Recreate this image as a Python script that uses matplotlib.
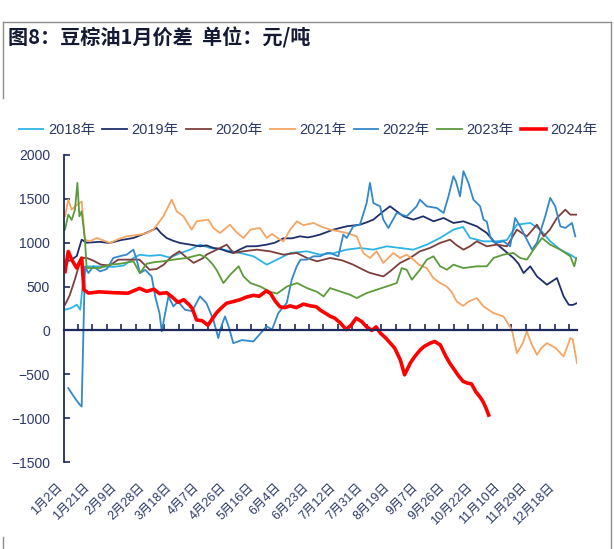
import numpy as np
import matplotlib
matplotlib.use("Agg")
import matplotlib.pyplot as plt
from matplotlib.lines import Line2D
from matplotlib.ticker import FixedLocator

plt.rcParams['font.family'] = ['Liberation Sans', 'Noto Sans CJK SC']

# x = 日序 (0..360)，数值单位 元/吨
x_2018 = [0.7, 5, 9, 11.4, 13.6, 16, 25, 35, 42, 48.7, 53.3, 60, 67.4, 74.4, 81.4, 88.4, 95.4, 102.5, 111.9,
          123.6, 133, 142.3, 151.7, 158.7, 170.5, 179.6, 189, 198.4, 207.7, 217.1, 226.5, 235.8, 245.2, 254.6,
          263.9, 273.3, 280, 285, 294.4, 303.7, 310.8, 317.8, 327.2, 334.2, 341.2, 348.3, 355.3, 359]
v_2018 = [236, 255, 293, 236, 600, 730, 730, 725, 740, 825, 863, 850, 860, 830, 880, 920, 978, 940, 920,
          883, 845, 750, 825, 883, 902, 864, 880, 921, 940, 921, 959, 940, 921, 978,
          1054, 1149, 1180, 1054, 1016, 1016, 1030, 1206, 1225, 1149, 1016, 921, 864, 826]

x_2019 = [0.7, 5, 9, 12.4, 16, 25, 32, 40, 48.7, 56, 62.7, 65, 68, 72, 77, 81.4, 88, 95.4, 100, 104.8, 110,
          114.2, 118.8, 123, 128.2, 135, 142.2, 148, 153.9, 160, 165.6, 171, 175, 179.6, 189, 198.4, 207.7,
          212, 217.1, 224.1, 228.8, 233.5, 238.2, 245.2, 252, 259.4, 266.4, 273.3, 280.3, 289.7, 296.7, 301.4,
          308.4, 315.4, 319, 322.5, 327.2, 331.9, 338.9, 345.9, 350.6, 354.2, 357, 360]
v_2019 = [788, 800, 850, 1035, 1000, 1010, 997, 1030, 1054, 1100, 1149, 1168, 1110, 1054, 1020, 997, 980, 959,
          970, 940, 930, 902, 883, 920, 959, 960, 978, 1000, 1050, 1050, 1073, 1060, 1073, 1092, 1149, 1187,
          1206, 1230, 1263, 1358, 1415, 1358, 1301, 1263, 1301, 1244, 1282, 1225, 1244, 1187, 1111, 1016,
          921, 826, 760, 654, 731, 616, 521, 597, 388, 293, 290, 312]

x_2020 = [0.7, 4, 8, 12, 16, 20, 26, 32, 38, 46, 53, 60, 65, 70, 76, 81, 85, 91, 97.8, 100, 107.2, 114.2,
          118.9, 125.9, 135.3, 144.6, 154, 163.4, 170.5, 177.5, 186.8, 195, 202.9, 209.9, 214, 219.4, 224.1,
          228.8, 235.8, 242.8, 249.8, 256.8, 263.9, 270.9, 275, 280.3, 285, 289.7, 296.7, 303.7, 310.8,
          317.8, 324.8, 331.9, 336.6, 341, 345.9, 351.8, 355.3, 360]
v_2020 = [293, 400, 600, 826, 826, 800, 750, 740, 807, 807, 807, 692, 700, 750, 850, 902, 845, 770, 826,
          864, 921, 978, 883, 902, 921, 902, 864, 883, 826, 788, 826, 800, 750, 692, 660, 635, 616,
          673, 769, 826, 902, 940, 997, 1035, 978, 921, 960, 1016, 959, 978, 959,
          1149, 1073, 1206, 1073, 1150, 1282, 1377, 1320, 1320]

x_2021 = [0.7, 3, 5.4, 8.9, 12.4, 14.7, 18.2, 23, 27, 32.3, 38, 44, 53.3, 58, 62.7, 69.7, 75.6, 79.1, 83.8,
          89.6, 93.1, 101.3, 104.8, 109.5, 116.5, 121, 125.9, 131, 137.5, 142.2, 146, 151.6, 154, 158.7,
          163.4, 168, 175.2, 180, 186.8, 193, 198.4, 205.4, 210, 214.7, 219.4, 224.1, 231.1, 235.8, 240.5,
          245.2, 249, 254.6, 259, 264, 268.5, 272, 275.6, 280, 284, 289.7, 294.4, 301.4, 308.4, 314.3,
          317.8, 322, 324.8, 328, 331.9, 335, 338.9, 345, 350.6, 355.3, 357, 360]
v_2021 = [1300, 1491, 1377, 1430, 1470, 1035, 1016, 1054, 1030, 997, 1040, 1073, 1092, 1110, 1149, 1301, 1491,
          1358, 1301, 1149, 1244, 1263, 1168, 1111, 1206, 1120, 1054, 1150, 1168, 1054, 1100, 1035, 1016,
          1149, 1244, 1200, 1225, 1187, 1149, 1130, 1111, 1073, 883, 826, 902, 769, 883, 826, 864,
          807, 750, 711, 600, 540, 502, 440, 330, 280, 330, 369, 274, 198, 160, 8,
          -259, -145, -11, -150, -278, -200, -145, -200, -297, -88, -100, -373]

x_2022 = [3, 8, 11.2, 12.4, 14.7, 17.1, 20.6, 25.3, 30, 34.6, 40, 44, 48.7, 51, 53.3, 57, 61.5, 64, 67, 68.6,
          71, 73.3, 76.8, 80, 84.9, 90, 95.4, 100, 104.8, 108.3, 110, 113, 116, 118.8, 125, 132.9, 137,
          142.2, 146, 150.4, 153, 156.3, 159.8, 163.3, 166, 170.4, 175, 179.6, 184.5, 186.7, 192.5, 196,
          198.4, 203, 207.7, 212.4, 214.7, 217.1, 221.8, 224.1, 227.6, 233.5, 240.5, 247.5, 249.8, 254.6,
          261.6, 266.4, 269.8, 273.3, 275, 277.9, 280.3, 283.8, 287.3, 292, 294.4, 296.7, 299, 302.6,
          308.4, 313.1, 316.6, 320.1, 323.6, 328.4, 331.9, 337.7, 341.2, 344.7, 348.3, 351.8, 356.5, 358.8]
v_2022 = [-658, -780, -849, -868, 730, 654, 730, 673, 700, 826, 850, 864, 921, 807, 654, 690, 616, 388, 198, -11,
          198, 388, 274, 330, 236, 220, 388, 310, 122, -88, 30, 160, 20, -145, -110, -126, -50,
          46, 10, 198, 250, 312, 578, 730, 807, 807, 845, 845, 883, 883, 845, 1092,
          1054, 1187, 1206, 1453, 1682, 1453, 1415, 1263, 1168, 1339, 1301, 1415, 1491, 1415,
          1396, 1339, 1529, 1758, 1700, 1529, 1815, 1682, 1491, 1415, 1263, 1240, 1073, 997,
          1016, 959, 1282, 1187, 1073, 921, 1000, 1301, 1511, 1415, 1187, 1168, 1225, 1073]

x_2023 = [0.7, 3, 5.4, 7.7, 9.4, 10.8, 12.4, 14.7, 15.9, 25.3, 32.3, 39.3, 48.7, 53.3, 58, 64, 69.7, 76.7,
          86.1, 95.4, 100.1, 104, 107, 111.9, 116.6, 122.5, 126, 130.8, 137.8, 144.9, 149.5, 156.6, 163.6,
          170.5, 177.5, 182.2, 186.7, 193.7, 200.7, 205.4, 212.4, 219.4, 226.5, 233.5, 237, 240.5, 244.1,
          249.8, 254.6, 259.3, 264, 268.7, 273.3, 280.3, 289.7, 296.7, 301.4, 308.4, 315.4, 320.1, 324.8,
          329.5, 335.4, 341.2, 348.3, 355.3, 358.1, 359.5]
v_2023 = [1149, 1320, 1260, 1377, 1682, 1301, 1358, 1035, 712, 712, 750, 760, 788, 654, 760, 780, 788, 807,
          826, 864, 826, 760, 692, 540, 635, 731, 616, 540, 500, 440, 420, 502, 540,
          483, 440, 388, 483, 445, 407, 369, 426, 464, 502, 540, 711, 692, 578,
          692, 807, 845, 731, 692, 750, 711, 731, 731, 826, 864, 883, 826, 807,
          921, 1054, 978, 921, 845, 731, 826]

x_2024 = [0.7, 3, 5.4, 8.9, 12.4, 14, 17.1, 25, 35, 45, 53, 58, 63, 67, 72, 76, 80, 84, 88, 90, 93, 97, 101,
          104, 107, 110, 114, 119, 123.5, 128, 133, 137, 142, 145, 148, 151.5, 155, 158.6, 163, 168, 173,
          177, 180, 184, 187, 190, 194, 198, 202, 205, 209, 212, 216, 219, 222, 226, 229, 232, 236, 239,
          243, 246, 250, 253, 257, 260, 264, 268, 271, 274, 277, 280, 283, 286, 289, 292, 294, 296, 298]
v_2024 = [670, 900, 807, 711, 825, 464, 426, 440, 430, 425, 480, 445, 470, 420, 430, 380, 320, 350, 290, 250,
          120, 110, 60, 130, 200, 250, 310, 330, 350, 380, 400, 390, 450, 420, 340, 270, 260, 280, 260,
          300, 280, 270, 230, 190, 160, 140, 84, 10, 70, 140, 100, 46, 0, 40, -30, -90, -145, -200, -335,
          -506, -373, -300, -221, -180, -145, -126, -164, -297, -380, -450, -520, -580, -600, -610, -700,
          -760, -810, -880, -965]

years = ['2018年', '2019年', '2020年', '2021年', '2022年', '2023年', '2024年']
series_x = [x_2018, x_2019, x_2020, x_2021, x_2022, x_2023, x_2024]
series_v = [v_2018, v_2019, v_2020, v_2021, v_2022, v_2023, v_2024]
colors = ['#2DB4E6', '#1F2F6B', '#7E3F3C', '#F6A562', '#3388CC', '#5C9B3A', '#FF0000']
widths = [1.3, 1.3, 1.3, 1.3, 1.3, 1.3, 2.6]

date_labels = ['1月2日', '1月21日', '2月9日', '2月28日', '3月18日', '4月7日', '4月26日', '5月16日',
               '6月4日', '6月23日', '7月12日', '7月31日', '8月19日', '9月7日', '9月26日', '10月22日',
               '11月10日', '11月29日', '12月18日']

navy = '#1F2A5C'
text_c = '#2B3A67'

fig = plt.figure(figsize=(6.14, 5.49), dpi=100)
ax = fig.add_axes([64 / 614, 1 - 462 / 549, 513 / 614, 307 / 549])

# 先定位脊线（set_position 会重置刻度）
ax.spines['bottom'].set_visible(False)
ax.spines['right'].set_visible(False)
ax.spines['top'].set_position(('data', 0))
ax.spines['top'].set_color(navy)
ax.spines['top'].set_linewidth(1.6)
ax.spines['left'].set_color(navy)
ax.spines['left'].set_linewidth(1.3)

for xs, vs, c, w, lab in zip(series_x, series_v, colors, widths, years):
    ax.plot(xs, vs, color=c, lw=w, label=lab, solid_joinstyle='round')

ax.set_xlim(0, 360)
ax.set_ylim(-1500, 2000)
ax.set_yticks(np.arange(-1500, 2001, 500))

# 类别轴：标签每19天，刻度线约每10天
ax.tick_params(axis='x', which='major', bottom=True, top=False, length=0, pad=14,
               labelrotation=45, labelsize=9, labelcolor=text_c)
ax.tick_params(axis='x', which='minor', bottom=False, top=True, direction='out',
               length=4, width=1.2, color=navy)
ax.tick_params(axis='y', direction='in', length=4, width=1.2, color=navy,
               labelsize=10, labelcolor=text_c, pad=10)
ax.xaxis.set_minor_locator(FixedLocator(np.linspace(9.6, 354.6, 35)))
ax.set_xticks(0.7 + 19.16 * np.arange(len(date_labels)), labels=date_labels)
for lbl in ax.get_xticklabels():
    lbl.set_ha('right')
    lbl.set_va('top')

fig.legend(loc='center', bbox_to_anchor=(308 / 614, 1 - 130 / 549), ncol=7, frameon=False,
           fontsize=10.5, handlelength=1.7, handletextpad=0.3, columnspacing=0.5,
           labelcolor=text_c)

fig.text(8 / 614, 1 - 38 / 549, '图8：豆棕油1月价差  单位：元/吨', fontsize=14.5, fontweight='bold',
         color='#141A33', va='center', ha='left', family=['Noto Sans CJK SC'])

# 外框
frame_c = '#8C8C8C'
fig.add_artist(Line2D([3 / 614, 611 / 614], [1 - 22 / 549, 1 - 22 / 549], color=frame_c, lw=1))
fig.add_artist(Line2D([3 / 614, 3 / 614], [1 - 22 / 549, 1 - 98 / 549], color=frame_c, lw=1))
fig.add_artist(Line2D([3 / 614, 3 / 614], [1 - 537 / 549, 0], color=frame_c, lw=1))
fig.add_artist(Line2D([611 / 614, 611 / 614], [1 - 22 / 549, 0], color=frame_c, lw=1))

fig.savefig('out.png', dpi=100)
